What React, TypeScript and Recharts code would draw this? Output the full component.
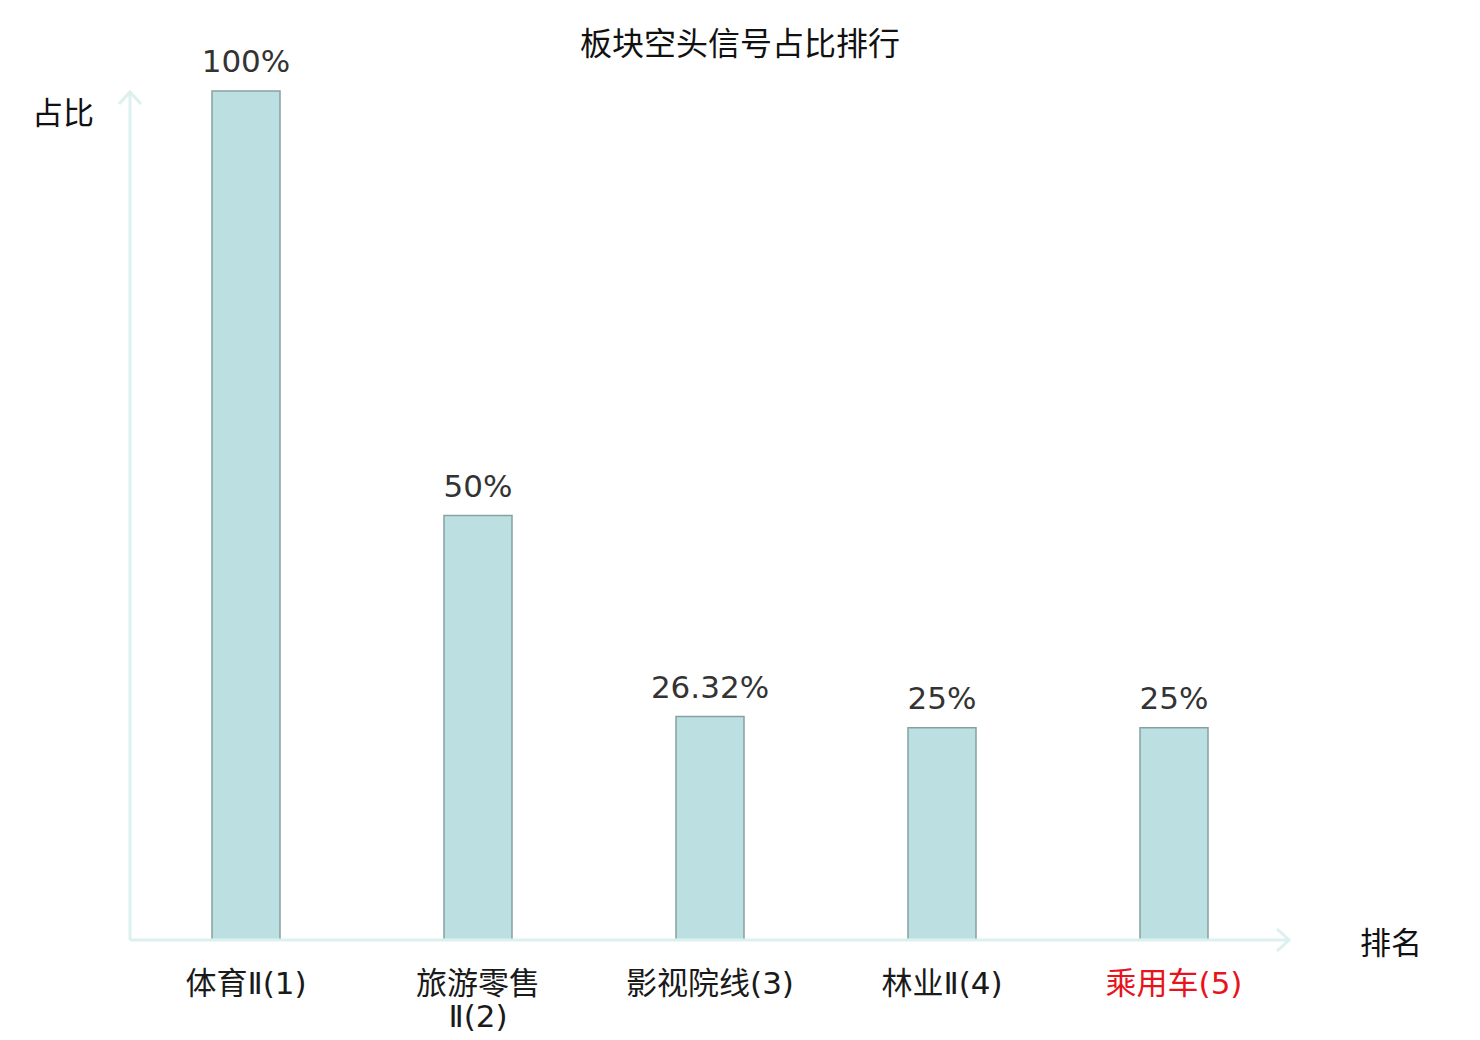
import { BarChart, Bar, XAxis, YAxis, LabelList } from "recharts";

const categories = ["体育Ⅱ(1)", "旅游零售\nⅡ(2)", "影视院线(3)", "林业Ⅱ(4)", "乘用车(5)"];
const shares = [100, 50, 26.32, 25, 25];
const highlighted = [false, false, false, false, true];

const data = categories.map((name, i) => ({ name, share: shares[i], hot: highlighted[i] }));

const FONT = "'DejaVu Sans', 'Noto Sans CJK SC', sans-serif";
const AXIS = "#dcf1ef";

function CategoryTick(props: any) {
  const { x, y, payload, index } = props;
  const lines = String(payload.value).split("\n");
  return (
    <text
      x={x}
      y={y}
      textAnchor="middle"
      fontFamily={FONT}
      fontSize={31}
      fill={highlighted[index] ? "#e8141c" : "#1a1a1a"}
    >
      {lines.map((line, i) => (
        <tspan key={i} x={x} dy={i === 0 ? 52 : 33}>
          {line}
        </tspan>
      ))}
    </text>
  );
}

export default function App() {
  return (
    <div style={{ position: "absolute", left: 0, top: 0, width: 1480, height: 1040, background: "#fff", fontFamily: FONT }}>
      <svg width={0} height={0} style={{ position: "absolute" }}>
        <defs>
          <marker
            id="axisArrow"
            viewBox="0 0 24 24"
            refX={22}
            refY={12}
            markerWidth={24}
            markerHeight={24}
            markerUnits="userSpaceOnUse"
            orient="auto-start-reverse"
          >
            <path d="M9,1 L21,12 L9,23" fill="none" stroke={AXIS} strokeWidth={3} />
          </marker>
        </defs>
      </svg>
      <BarChart width={1480} height={1040} data={data} margin={{ top: 91, right: 190, left: 0, bottom: 0 }}>
        <XAxis
          dataKey="name"
          height={100}
          interval={0}
          tickLine={false}
          tickSize={0}
          axisLine={{ stroke: AXIS, strokeWidth: 3, markerEnd: "url(#axisArrow)" } as any}
          tick={<CategoryTick />}
        />
        <YAxis
          width={130}
          domain={[0, 100]}
          tick={false}
          tickLine={false}
          axisLine={{ stroke: AXIS, strokeWidth: 3, markerStart: "url(#axisArrow)" } as any}
        />
        <Bar dataKey="share" barSize={68} fill="#bce0e2" stroke="#87a1a3" strokeWidth={1.5} isAnimationActive={false}>
          <LabelList
            dataKey="share"
            position="top"
            offset={19}
            formatter={(v: any) => `${v}%`}
            style={{ fontFamily: FONT, fontSize: 31, fill: "#333" }}
          />
        </Bar>
      </BarChart>
      <div style={{ position: "absolute", left: 0, width: 1480, top: 18, textAlign: "center", fontSize: 32, color: "#111" }}>
        板块空头信号占比排行
      </div>
      <div style={{ position: "absolute", left: 32, top: 88, fontSize: 31, color: "#111" }}>占比</div>
      <div style={{ position: "absolute", left: 1360, top: 918, fontSize: 31, color: "#111" }}>排名</div>
    </div>
  );
}
